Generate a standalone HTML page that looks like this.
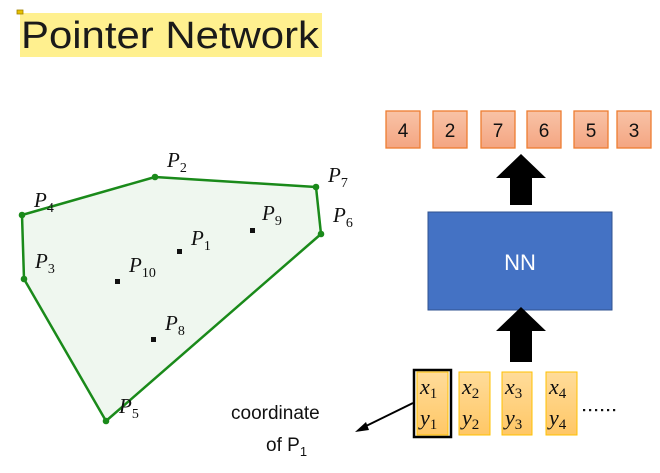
<!DOCTYPE html>
<html><head><style>
html,body{margin:0;padding:0;background:#fff;width:660px;height:473px;overflow:hidden}
svg{display:block}
.pl{font-family:"Liberation Serif",serif;font-style:italic;font-size:21px;fill:#111}
.sb{font-family:"Liberation Serif",serif;font-style:normal;font-size:14px;fill:#111}
.num{font-family:"Liberation Sans",sans-serif;font-size:19px;fill:#111;text-anchor:middle}
.mx{font-family:"Liberation Serif",serif;font-style:italic;font-size:22px;fill:#111}
.ms{font-family:"Liberation Serif",serif;font-style:normal;font-size:15px;fill:#111}
</style></head><body>
<svg width="660" height="473" viewBox="0 0 660 473" xmlns="http://www.w3.org/2000/svg">
<defs>
<linearGradient id="og" x1="0" y1="0" x2="0" y2="1"><stop offset="0" stop-color="#f8c3a6"/><stop offset="1" stop-color="#f4a582"/></linearGradient>
<linearGradient id="yg" x1="0" y1="0" x2="0" y2="1"><stop offset="0" stop-color="#ffdc9a"/><stop offset="1" stop-color="#ffc766"/></linearGradient>
</defs>
<rect x="20" y="13" width="302" height="44" fill="#fff08f"/>
<rect x="17" y="10" width="6" height="4" fill="#e6c000" stroke="#a08000" stroke-width="0.8"/>
<text x="21" y="48" font-family="Liberation Sans,sans-serif" font-size="38" fill="#1a1a1a" textLength="298" lengthAdjust="spacingAndGlyphs">Pointer Network</text>

<polygon points="22,215 155,177 316,187 321,234 106,421 24,279" fill="#eff7ef" stroke="#1a8a1a" stroke-width="2.5" stroke-linejoin="round"/>
<g fill="#1a8a1a"><circle cx="22" cy="215" r="3.3"/><circle cx="155" cy="177" r="3.3"/><circle cx="316" cy="187" r="3.3"/><circle cx="321" cy="234" r="3.3"/><circle cx="106" cy="421" r="3.3"/><circle cx="24" cy="279" r="3.3"/></g>
<g fill="#111"><rect x="250" y="228" width="5" height="5"/><rect x="177" y="249" width="5" height="5"/><rect x="115" y="279" width="5" height="5"/><rect x="151" y="337" width="5" height="5"/></g>
<text class="pl" x="167" y="167">P<tspan class="sb" dy="5">2</tspan></text>
<text class="pl" x="328" y="182">P<tspan class="sb" dy="5">7</tspan></text>
<text class="pl" x="34" y="207">P<tspan class="sb" dy="5">4</tspan></text>
<text class="pl" x="333" y="222">P<tspan class="sb" dy="5">6</tspan></text>
<text class="pl" x="262" y="220">P<tspan class="sb" dy="5">9</tspan></text>
<text class="pl" x="191" y="245">P<tspan class="sb" dy="5">1</tspan></text>
<text class="pl" x="35" y="268">P<tspan class="sb" dy="5">3</tspan></text>
<text class="pl" x="129" y="272">P<tspan class="sb" dy="5">10</tspan></text>
<text class="pl" x="165" y="330">P<tspan class="sb" dy="5">8</tspan></text>
<text class="pl" x="119" y="413">P<tspan class="sb" dy="5">5</tspan></text>

<g stroke="#ed7d31" stroke-width="1.3" fill="url(#og)">
<rect x="386" y="111" width="34" height="37"/><rect x="433" y="111" width="34" height="37"/><rect x="481" y="111" width="34" height="37"/><rect x="527" y="111" width="34" height="37"/><rect x="574" y="111" width="34" height="37"/><rect x="617" y="111" width="34" height="37"/>
</g>
<text class="num" x="403" y="137">4</text><text class="num" x="450" y="137">2</text><text class="num" x="498" y="137">7</text><text class="num" x="544" y="137">6</text><text class="num" x="591" y="137">5</text><text class="num" x="634" y="137">3</text>

<polygon points="521,154 546,178 532,178 532,205 510,205 510,178 496,178" fill="#000"/>
<rect x="428" y="212" width="184" height="98" fill="#4472c4" stroke="#2f528f" stroke-width="1"/>
<text x="520" y="270" font-family="Liberation Sans,sans-serif" font-size="22" fill="#fff" text-anchor="middle">NN</text>
<polygon points="521,307 546,331 532,331 532,362 510,362 510,331 496,331" fill="#000"/>

<g stroke="#ffc000" stroke-width="1" fill="url(#yg)">
<rect x="417" y="372" width="31" height="63"/><rect x="459" y="372" width="31" height="63"/><rect x="502" y="372" width="30" height="63"/><rect x="546" y="372" width="31" height="63"/>
</g>
<rect x="414" y="370" width="37" height="67" fill="none" stroke="#000" stroke-width="2.5"/>
<g>
<text class="mx" x="420" y="394">x<tspan class="ms" dy="4">1</tspan></text><text class="mx" x="420" y="425">y<tspan class="ms" dy="4">1</tspan></text>
<text class="mx" x="462" y="394">x<tspan class="ms" dy="4">2</tspan></text><text class="mx" x="462" y="425">y<tspan class="ms" dy="4">2</tspan></text>
<text class="mx" x="505" y="394">x<tspan class="ms" dy="4">3</tspan></text><text class="mx" x="505" y="425">y<tspan class="ms" dy="4">3</tspan></text>
<text class="mx" x="549" y="394">x<tspan class="ms" dy="4">4</tspan></text><text class="mx" x="549" y="425">y<tspan class="ms" dy="4">4</tspan></text>
</g>
<g fill="#111"><rect x="583" y="409" width="2.2" height="2.2"/><rect x="589" y="409" width="2.2" height="2.2"/><rect x="595" y="409" width="2.2" height="2.2"/><rect x="601" y="409" width="2.2" height="2.2"/><rect x="607" y="409" width="2.2" height="2.2"/><rect x="613" y="409" width="2.2" height="2.2"/></g>

<line x1="413" y1="403" x2="362" y2="428" stroke="#000" stroke-width="2"/>
<polygon points="355,432 366,422 369,430" fill="#000"/>
<text x="231" y="419" font-family="Liberation Sans,sans-serif" font-size="19" fill="#111">coordinate</text>
<text x="266" y="451" font-family="Liberation Sans,sans-serif" font-size="19" fill="#111">of P<tspan font-size="13" dy="5">1</tspan></text>
</svg>
</body></html>
